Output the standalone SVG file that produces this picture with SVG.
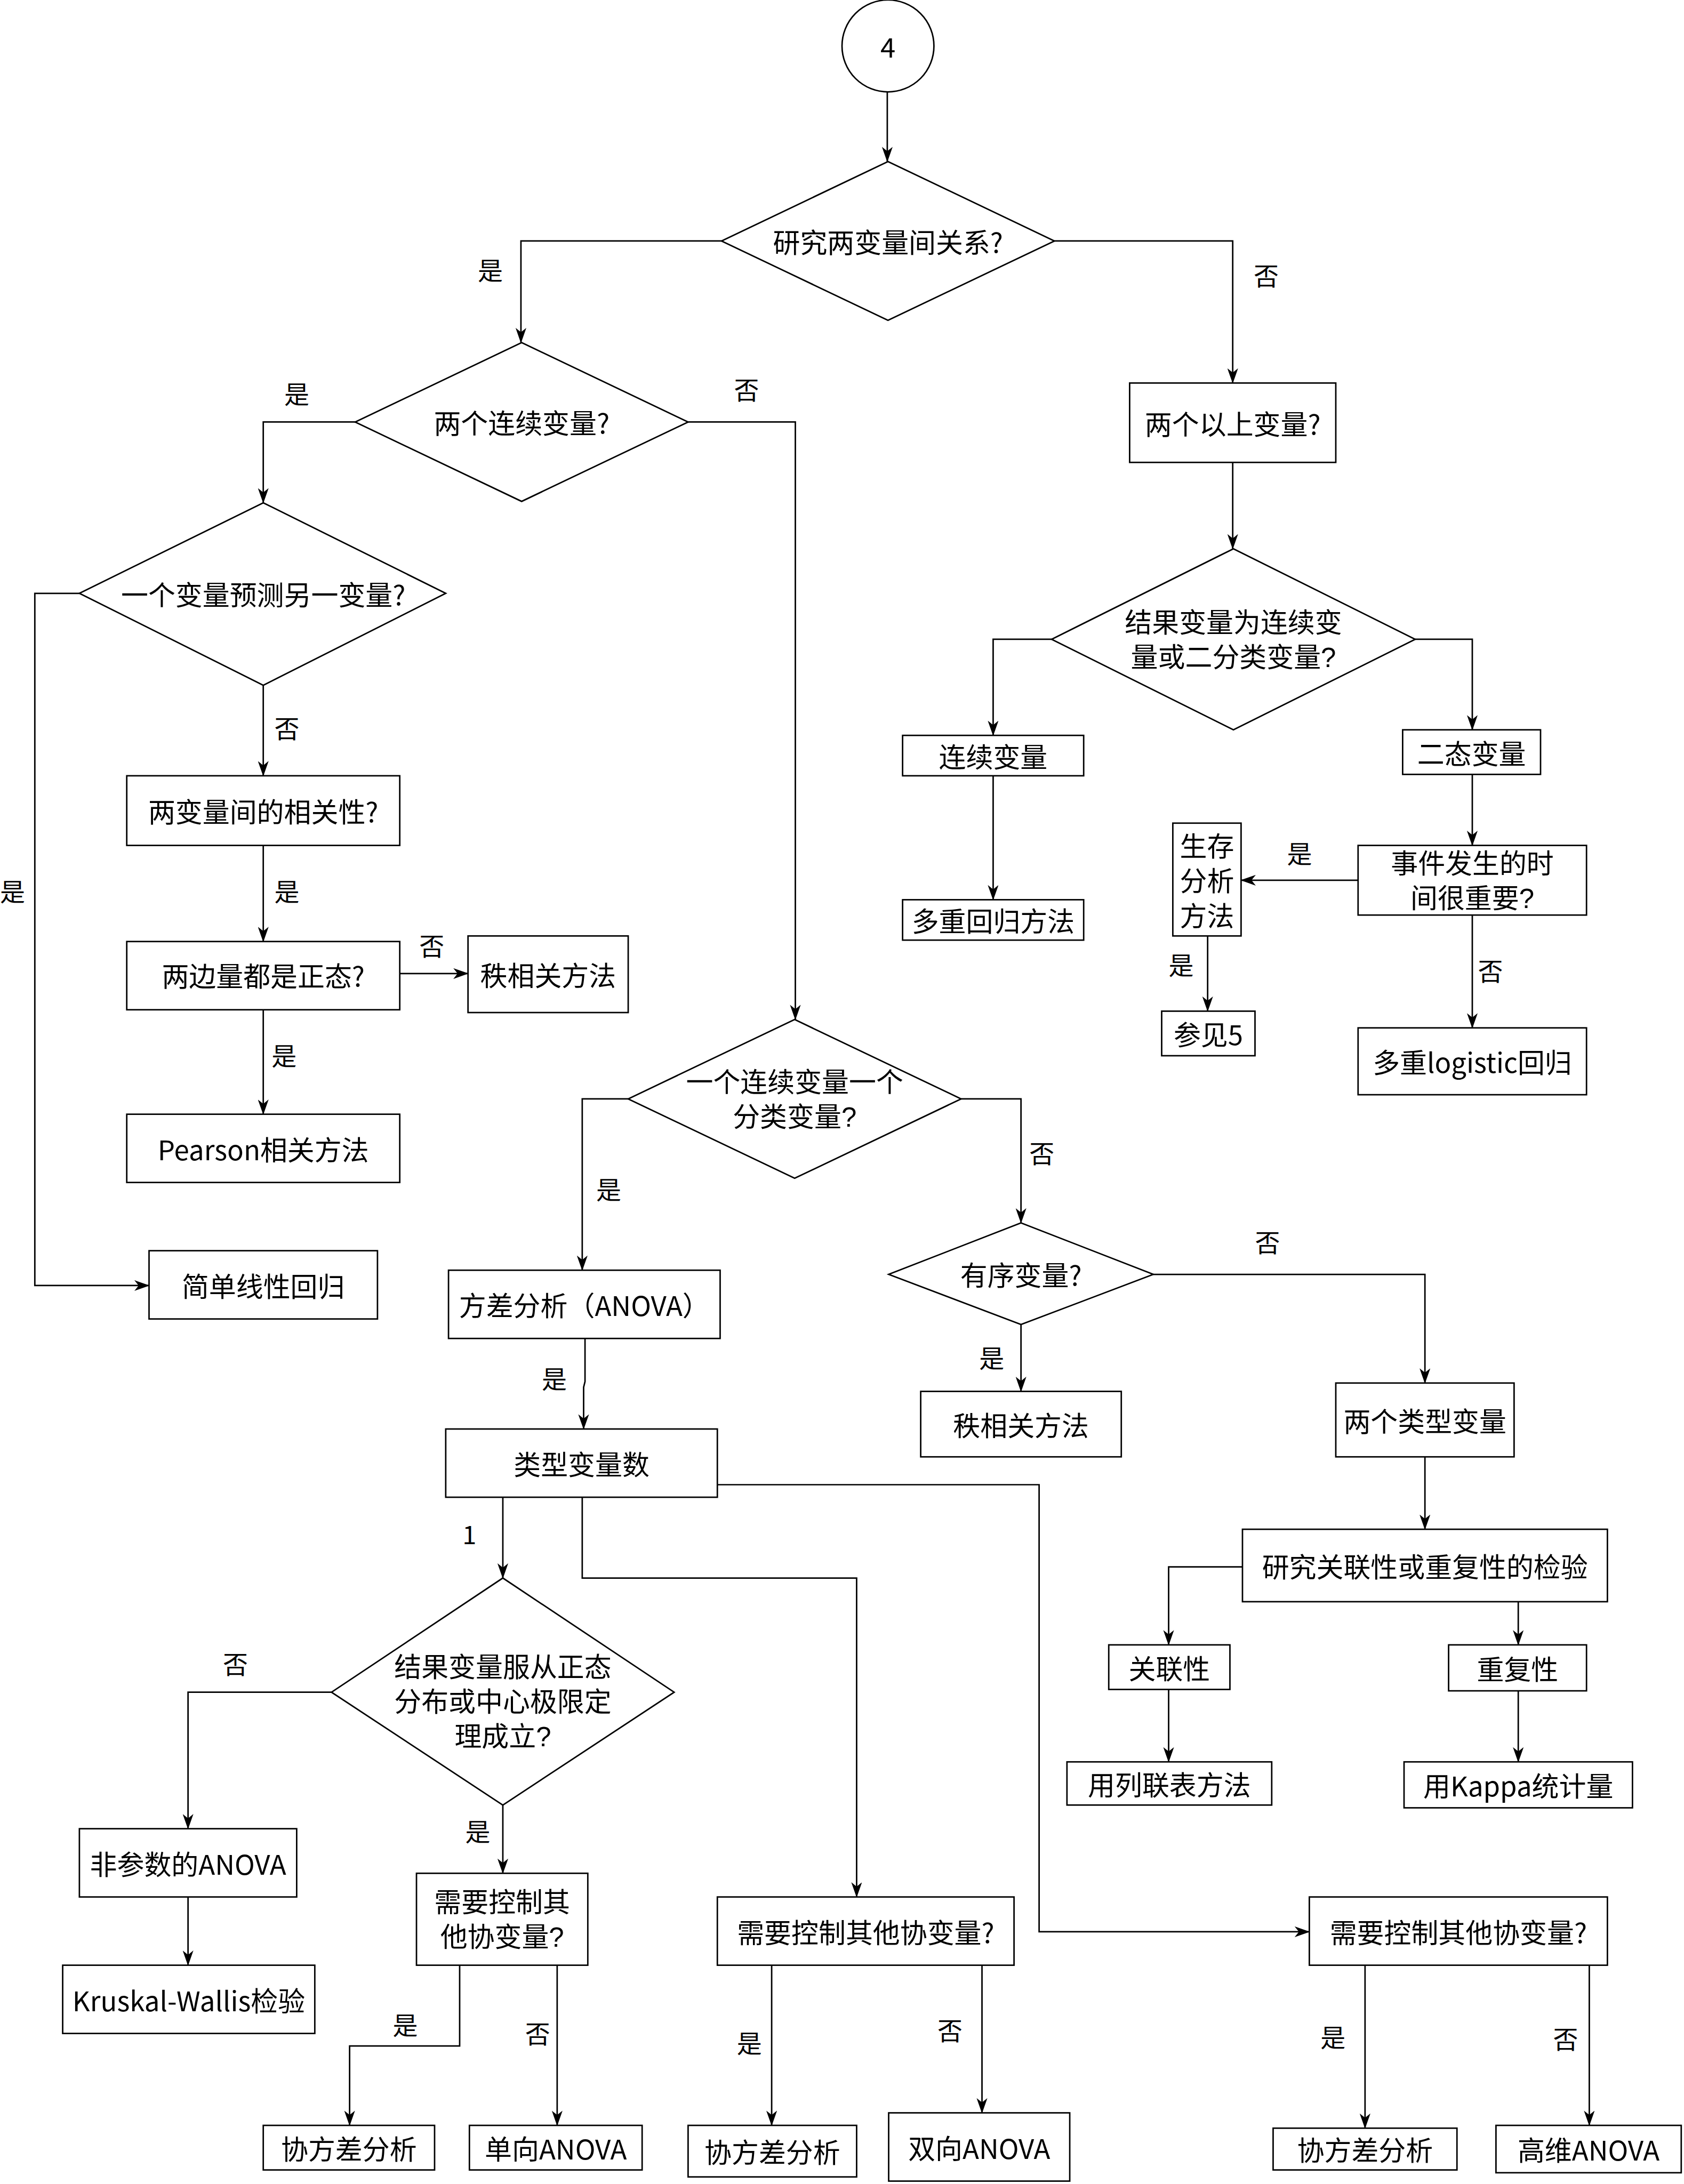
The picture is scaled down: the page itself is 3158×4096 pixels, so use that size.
<svg xmlns="http://www.w3.org/2000/svg" width="3158" height="4096" viewBox="0 0 3158 4096">
<style>
.n{fill:#fff;stroke:#000;stroke-width:1.05}
.t{font-family:"Noto Sans CJK SC","Noto Sans",sans-serif;font-size:19.5px;fill:#000;text-anchor:middle;dominant-baseline:central}
.m{font-family:"Liberation Sans","Noto Sans CJK SC",sans-serif;font-size:19.5px;fill:#000;text-anchor:middle;dominant-baseline:central}
.l{font-family:"Noto Sans CJK SC","Noto Sans",sans-serif;font-size:18px;fill:#000;text-anchor:middle;dominant-baseline:central}
.e{fill:none;stroke:#000;stroke-width:1.05;marker-end:url(#a)}
</style>
<defs>
<marker id="a" markerUnits="userSpaceOnUse" viewBox="0 0 10 7" markerWidth="11" markerHeight="7.7" refX="9.6" refY="3.5" orient="auto">
<path d="M0,0 L10,3.5 L0,7 L2.8,3.5 Z" fill="#000"/>
</marker>
</defs>
<rect width="3158" height="4096" fill="#fff"/>
<g transform="scale(2.6121)">
<g id="connectors">
<path class="e" d="M637,66 V116"/>
<path class="e" d="M518,173 H374 V246"/>
<text class="l" x="352" y="193">是</text>
<path class="e" d="M757,173 H885 V275"/>
<text class="l" x="909" y="197">否</text>
<path class="e" d="M255,303 H189 V361"/>
<text class="l" x="213" y="282">是</text>
<path class="e" d="M494,303 H571 V732"/>
<text class="l" x="536" y="279">否</text>
<path class="e" d="M57,426 H25 V923 H107"/>
<text class="l" x="9" y="639">是</text>
<path class="e" d="M189,492 V557"/>
<text class="l" x="206" y="522">否</text>
<path class="e" d="M189,607 V676"/>
<text class="l" x="206" y="639">是</text>
<path class="e" d="M287,699 H336"/>
<text class="l" x="310" y="678">否</text>
<path class="e" d="M189,725 V800"/>
<text class="l" x="204" y="757">是</text>
<path class="e" d="M885,332 V394"/>
<path class="e" d="M755,459 H713 V528"/>
<path class="e" d="M1016,459 H1057 V524"/>
<path class="e" d="M713,557 V646"/>
<path class="e" d="M1057,556 V607"/>
<path class="e" d="M975,632 H891"/>
<text class="l" x="933" y="612">是</text>
<path class="e" d="M1057,657 V738"/>
<text class="l" x="1070" y="696">否</text>
<path class="e" d="M867,672 V726"/>
<text class="l" x="848" y="692">是</text>
<path class="e" d="M451,789 H418 V912"/>
<text class="l" x="437" y="853">是</text>
<path class="e" d="M690,789 H733 V878"/>
<text class="l" x="748" y="827">否</text>
<path class="e" d="M420,961 V992 L419,996 V1026"/>
<text class="l" x="398" y="989">是</text>
<path class="e" d="M733,951 V999"/>
<text class="l" x="712" y="974">是</text>
<path class="e" d="M828,915 H1023 V993"/>
<text class="l" x="910" y="891">否</text>
<path class="e" d="M1023,1046 V1098"/>
<path class="e" d="M892,1125 H839 V1181"/>
<path class="e" d="M1090,1150 V1181"/>
<path class="e" d="M839,1213 V1265"/>
<path class="e" d="M1090,1214 V1265"/>
<path class="e" d="M361,1075 V1133"/>
<text class="l" x="337" y="1101">1</text>
<path class="e" d="M418,1075 V1133 H615 V1362"/>
<path class="e" d="M515,1066 H746 V1387 H940"/>
<path class="e" d="M238,1215 H135 V1313"/>
<text class="l" x="169" y="1194">否</text>
<path class="e" d="M361,1296 V1345"/>
<text class="l" x="343" y="1314">是</text>
<path class="e" d="M135,1362 V1411"/>
<path class="e" d="M330,1411 V1469 H251 V1526"/>
<text class="l" x="291" y="1453">是</text>
<path class="e" d="M400,1411 V1526"/>
<text class="l" x="386" y="1459">否</text>
<path class="e" d="M554,1411 V1526"/>
<text class="l" x="538" y="1466">是</text>
<path class="e" d="M705,1411 V1517"/>
<text class="l" x="682" y="1457">否</text>
<path class="e" d="M980,1411 V1528"/>
<text class="l" x="957" y="1462">是</text>
<path class="e" d="M1141,1411 V1526"/>
<text class="l" x="1124" y="1463">否</text>
</g>
<g id="start"><ellipse class="n" cx="637.5" cy="33" rx="33" ry="33"/><text class="t" x="637.5" y="33">4</text></g>
<g id="d1"><polygon class="n" points="637.5,116 757,173 637.5,230 518,173"/><text class="t" x="637.5" y="173">研究两变量间关系?</text></g>
<g id="d2"><polygon class="n" points="374.5,246 494,303 374.5,360 255,303"/><text class="t" x="374.5" y="303">两个连续变量?</text></g>
<g id="d3"><polygon class="n" points="189,361 320,426 189,492 57,426"/><text class="t" x="189" y="426">一个变量预测另一变量?</text></g>
<g id="b_corr"><rect class="n" x="91" y="557" width="196" height="50"/><text class="t" x="189" y="582">两变量间的相关性?</text></g>
<g id="b_normal"><rect class="n" x="91" y="676" width="196" height="49"/><text class="t" x="189" y="700">两边量都是正态?</text></g>
<g id="b_rank1"><rect class="n" x="336" y="672" width="115" height="55"/><text class="t" x="393.5" y="699.5">秩相关方法</text></g>
<g id="b_pearson"><rect class="n" x="91" y="800" width="196" height="49"/><text class="t" x="189" y="824.5">Pearson相关方法</text></g>
<g id="b_linreg"><rect class="n" x="107" y="898" width="164" height="49"/><text class="t" x="189" y="922.5">简单线性回归</text></g>
<g id="b_multi"><rect class="n" x="811" y="275" width="148" height="57"/><text class="t" x="885" y="303.5">两个以上变量?</text></g>
<g id="d5"><polygon class="n" points="885.5,394 1016,459 885.5,524 755,459"/><text class="m"><tspan x="885.5" y="447">结果变量为连续变</tspan><tspan x="885.5" y="472">量或二分类变量?</tspan></text></g>
<g id="b_cont"><rect class="n" x="648" y="528" width="130" height="29"/><text class="t" x="713" y="542.5">连续变量</text></g>
<g id="b_multreg"><rect class="n" x="648" y="646" width="130" height="29"/><text class="t" x="713" y="660.5">多重回归方法</text></g>
<g id="b_binary"><rect class="n" x="1007" y="524" width="99" height="32"/><text class="t" x="1056.5" y="540">二态变量</text></g>
<g id="b_time"><rect class="n" x="975" y="607" width="164" height="50"/><text class="m"><tspan x="1057" y="620">事件发生的时</tspan><tspan x="1057" y="645">间很重要?</tspan></text></g>
<g id="b_surv"><rect class="n" x="842" y="591" width="49" height="81"/><text class="m"><tspan x="866.5" y="608">生存</tspan><tspan x="866.5" y="633">分析</tspan><tspan x="866.5" y="658">方法</tspan></text></g>
<g id="b_see5"><rect class="n" x="834" y="726" width="67" height="32"/><text class="t" x="867.5" y="742">参见5</text></g>
<g id="b_logit"><rect class="n" x="975" y="738" width="164" height="48"/><text class="t" x="1057" y="762">多重logistic回归</text></g>
<g id="d4"><polygon class="n" points="570.5,732 690,789 570.5,846 451,789"/><text class="m"><tspan x="570.5" y="777">一个连续变量一个</tspan><tspan x="570.5" y="802">分类变量?</tspan></text></g>
<g id="b_anova"><rect class="n" x="322" y="912" width="195" height="49"/><text class="t" x="419.5" y="936.5">方差分析（ANOVA）</text></g>
<g id="b_ncat"><rect class="n" x="320" y="1026" width="195" height="49"/><text class="t" x="417.5" y="1050.5">类型变量数</text></g>
<g id="d6"><polygon class="n" points="361,1133 484,1215 361,1296 238,1215"/><text class="m"><tspan x="361" y="1197">结果变量服从正态</tspan><tspan x="361" y="1222">分布或中心极限定</tspan><tspan x="361" y="1247">理成立?</tspan></text></g>
<g id="b_npanova"><rect class="n" x="57" y="1313" width="156" height="49"/><text class="t" x="135" y="1337.5">非参数的ANOVA</text></g>
<g id="b_kw"><rect class="n" x="45" y="1411" width="181" height="49"/><text class="t" x="135.5" y="1435.5">Kruskal-Wallis检验</text></g>
<g id="b_cov1"><rect class="n" x="299" y="1345" width="123" height="66"/><text class="m"><tspan x="360.5" y="1366">需要控制其</tspan><tspan x="360.5" y="1391">他协变量?</tspan></text></g>
<g id="b_ancova1"><rect class="n" x="189" y="1526" width="123" height="32"/><text class="t" x="250.5" y="1542">协方差分析</text></g>
<g id="b_oneway"><rect class="n" x="337" y="1526" width="124" height="32"/><text class="t" x="399" y="1542">单向ANOVA</text></g>
<g id="b_cov2"><rect class="n" x="515" y="1362" width="213" height="49"/><text class="t" x="621.5" y="1386.5">需要控制其他协变量?</text></g>
<g id="b_ancova2"><rect class="n" x="494" y="1526" width="121" height="37"/><text class="t" x="554.5" y="1544.5">协方差分析</text></g>
<g id="b_twoway"><rect class="n" x="638" y="1517" width="130" height="49"/><text class="t" x="703" y="1541.5">双向ANOVA</text></g>
<g id="b_cov3"><rect class="n" x="940" y="1362" width="214" height="49"/><text class="t" x="1047" y="1386.5">需要控制其他协变量?</text></g>
<g id="b_ancova3"><rect class="n" x="914" y="1528" width="132" height="30"/><text class="t" x="980" y="1543">协方差分析</text></g>
<g id="b_highdim"><rect class="n" x="1074" y="1526" width="133" height="34"/><text class="t" x="1140.5" y="1543">高维ANOVA</text></g>
<g id="d7"><polygon class="n" points="733,878 828,915 733,951 638,915"/><text class="t" x="733" y="914.5">有序变量?</text></g>
<g id="b_rank2"><rect class="n" x="661" y="999" width="144" height="47"/><text class="t" x="733" y="1022.5">秩相关方法</text></g>
<g id="b_twocat"><rect class="n" x="959" y="993" width="128" height="53"/><text class="t" x="1023" y="1019.5">两个类型变量</text></g>
<g id="b_assoc_rep"><rect class="n" x="892" y="1098" width="262" height="52"/><text class="t" x="1023" y="1124">研究关联性或重复性的检验</text></g>
<g id="b_assoc"><rect class="n" x="796" y="1181" width="87" height="32"/><text class="t" x="839.5" y="1197">关联性</text></g>
<g id="b_rep"><rect class="n" x="1040" y="1181" width="99" height="33"/><text class="t" x="1089.5" y="1197.5">重复性</text></g>
<g id="b_contab"><rect class="n" x="766" y="1265" width="147" height="31"/><text class="t" x="839.5" y="1280.5">用列联表方法</text></g>
<g id="b_kappa"><rect class="n" x="1008" y="1265" width="164" height="33"/><text class="t" x="1090" y="1281.5">用Kappa统计量</text></g>
</g>
</svg>
